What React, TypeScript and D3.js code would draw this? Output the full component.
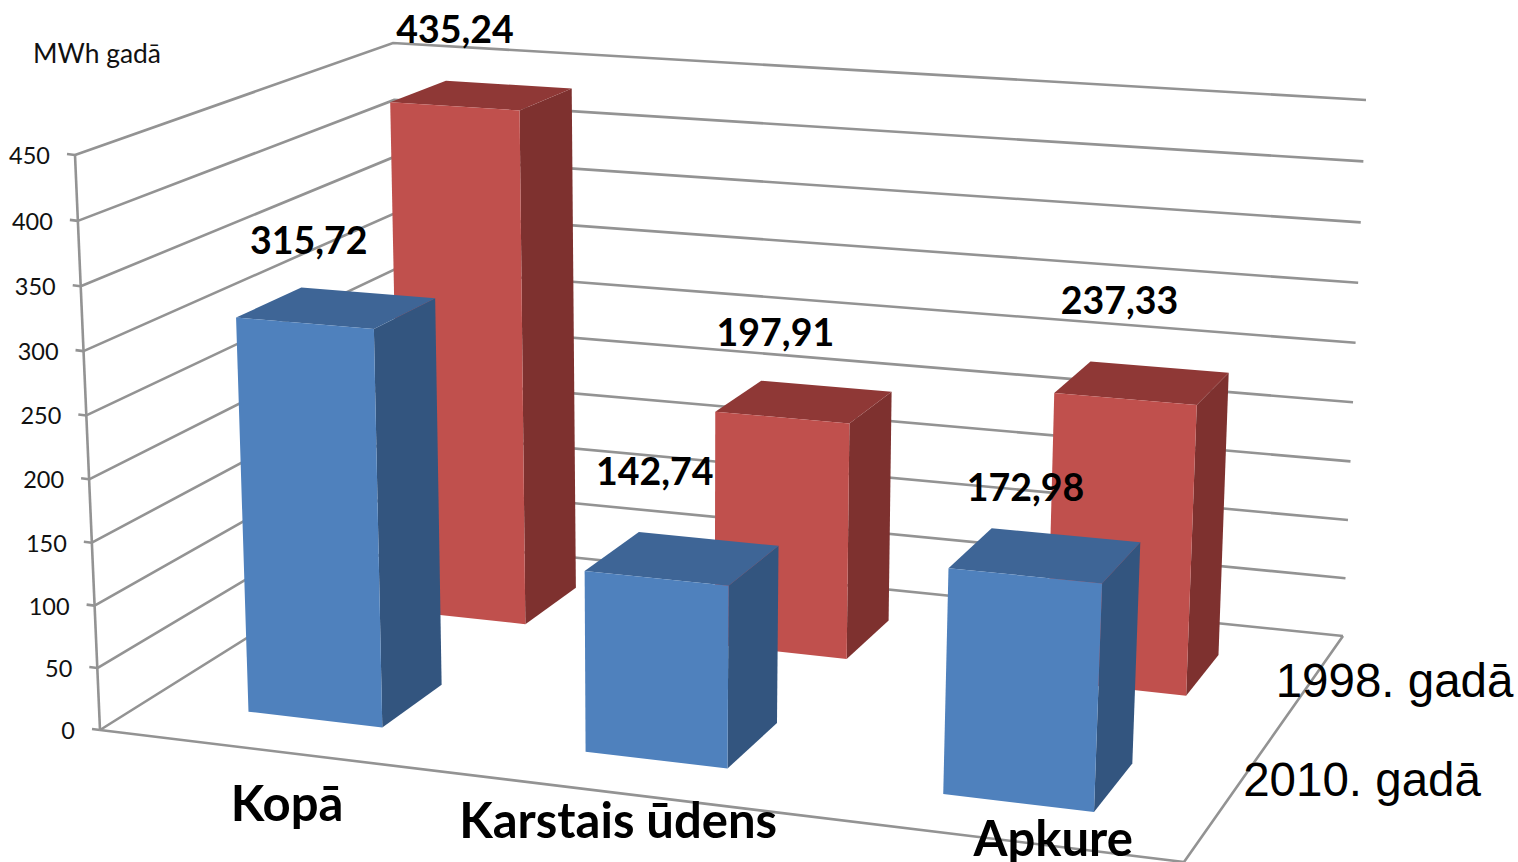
import React, { useEffect, useRef } from "react";
import * as d3 from "d3";

const categories = ["Kopā", "Karstais ūdens", "Apkure"];
const seriesNames = ["2010. gadā", "1998. gadā"];
const values2010 = [315.72, 142.74, 172.98];
const values1998 = [435.24, 197.91, 237.33];
const yTicks = [0, 50, 100, 150, 200, 250, 300, 350, 400, 450];
const yUnit = "MWh gadā";

const W = 1518;
const H = 862;

type P = [number, number];

// corners of the 3D box on screen: front-left, front-right, back-right, back-left
const floorQuad: P[] = [[100, 730], [1184, 862], [1343, 636], [403, 540]];
const ceilQuad: P[] = [[75, 155], [1212, 235], [1366, 100], [393, 43]];

// unit square -> quad perspective map
function homography(q: P[]) {
  const [[x0, y0], [x1, y1], [x2, y2], [x3, y3]] = q;
  const dx1 = x1 - x2, dx2 = x3 - x2, sx = x0 - x1 + x2 - x3;
  const dy1 = y1 - y2, dy2 = y3 - y2, sy = y0 - y1 + y2 - y3;
  const den = dx1 * dy2 - dx2 * dy1;
  const g = (sx * dy2 - dx2 * sy) / den;
  const h = (dx1 * sy - sx * dy1) / den;
  const a = x1 - x0 + g * x1, b = x3 - x0 + h * x3;
  const d = y1 - y0 + g * y1, e = y3 - y0 + h * y3;
  return (u: number, v: number): P => {
    const k = g * u + h * v + 1;
    return [(a * u + b * v + x0) / k, (d * u + e * v + y0) / k];
  };
}

const floor = homography(floorQuad);
const ceil = homography(ceilQuad);

const xBand = d3.scaleBand<string>().domain(categories).range([0.007, 0.995]).paddingInner(0.596).paddingOuter(0.288);
const zBand = d3.scaleBand<string>().domain(seriesNames).range([-0.008, 0.995]).paddingInner(0.605).paddingOuter(0.29);
const yScale = d3.scaleLinear().domain([0, 450]).range([0, 1]);

// value axis gets a little stretched towards the top of the box
const tall = (t: number) => t / (1.035 - 0.035 * t);

// u along the front, w into the depth, val on the value axis
function project(u: number, w: number, val: number): P {
  const t = tall(yScale(val));
  const a = floor(u, w);
  const b = ceil(u, w);
  return [a[0] + (b[0] - a[0]) * t, a[1] + (b[1] - a[1]) * t];
}

const fmt = d3.formatLocale({ decimal: ",", thousands: "", grouping: [3], currency: ["", ""] }).format(".2f");
const line = d3.line();

const seriesColors = [
  { front: "#4f81bd", side: "#33557f", top: "#3e6596" },
  { front: "#c0504d", side: "#7e312f", top: "#8f3836" },
];
const gridColor = "#939393";
const calibriLike = "Lato, 'Open Sans', sans-serif";

// labels were hand placed in the source slide
const labelNudge2010: P[] = [[-3, -2], [-3, -21], [5, -2]];
const labelNudge1998: P[] = [[-2, 0], [-4, -4], [2, -17]];
const categoryNudge: P[] = [[17, 70], [0, 45], [65, 18]];
const seriesNudge: P[] = [[16, -5], [-32, 11]];

export default function App() {
  const ref = useRef<SVGSVGElement>(null);

  useEffect(() => {
    if (!ref.current) return;
    const svg = d3.select(ref.current);
    svg.selectAll("*").remove();

    // walls
    const grid = svg.append("g").attr("fill", "none").attr("stroke", gridColor).attr("stroke-width", 2.6);
    yTicks.forEach((t) => {
      grid.append("path").attr("d", line([project(0, 0, t), project(0, 1, t), project(1, 1, t)]));
      const p = project(0, 0, t);
      grid.append("path").attr("d", line([[p[0] - 8, p[1] - 1], p]));
    });
    grid.append("path").attr("d", line([project(0, 0, 0), project(0, 0, 450)]));
    grid.append("path").attr("d", line([project(0, 0, 0), project(1, 0, 0), project(1, 1, 0)]));

    svg
      .append("g")
      .selectAll("text")
      .data(yTicks)
      .join("text")
      .attr("x", (d) => project(0, 0, d)[0] - 25)
      .attr("y", (d) => project(0, 0, d)[1] + 9)
      .attr("text-anchor", "end")
      .attr("font-family", calibriLike)
      .attr("font-size", 23.5)
      .attr("fill", "#111")
      .text((d) => d);

    svg
      .append("text")
      .attr("x", 33)
      .attr("y", 63)
      .attr("font-family", calibriLike)
      .attr("font-size", 26.4)
      .attr("fill", "#111")
      .text(yUnit);

    // back row first, then the front row
    const rows = [
      { idx: 1, values: values1998, nudge: labelNudge1998 },
      { idx: 0, values: values2010, nudge: labelNudge2010 },
    ];
    const labels: { x: number; y: number; text: string }[] = [];

    rows.forEach((row) => {
      const color = seriesColors[row.idx];
      const z0 = zBand(seriesNames[row.idx])!;
      const z1 = z0 + zBand.bandwidth();
      categories.forEach((cat, i) => {
        const x0 = xBand(cat)!;
        const x1 = x0 + xBand.bandwidth();
        const v = row.values[i];
        const g = svg.append("g");
        g.append("path")
          .attr("fill", color.side)
          .attr("d", line([project(x1, z0, 0), project(x1, z1, 0), project(x1, z1, v), project(x1, z0, v)]) + "Z");
        g.append("path")
          .attr("fill", color.top)
          .attr("d", line([project(x0, z0, v), project(x1, z0, v), project(x1, z1, v), project(x0, z1, v)]) + "Z");
        g.append("path")
          .attr("fill", color.front)
          .attr("d", line([project(x0, z0, 0), project(x1, z0, 0), project(x1, z0, v), project(x0, z0, v)]) + "Z");
        const c = project((x0 + x1) / 2, (z0 + z1) / 2, v);
        labels.push({
          x: c[0] - 25 + row.nudge[i][0],
          y: c[1] - 52 + row.nudge[i][1],
          text: fmt(v),
        });
      });
    });

    svg
      .append("g")
      .selectAll("text")
      .data(labels)
      .join("text")
      .attr("x", (d) => d.x)
      .attr("y", (d) => d.y)
      .attr("text-anchor", "middle")
      .attr("font-family", calibriLike)
      .attr("font-weight", 700)
      .attr("font-size", 37.5)
      .attr("fill", "#000")
      .text((d) => d.text);

    // category labels under the front edge
    svg
      .append("g")
      .selectAll("text")
      .data(categories)
      .join("text")
      .attr("x", (d, i) => project(xBand(d)! + xBand.bandwidth() / 2, 0, 0)[0] + categoryNudge[i][0])
      .attr("y", (d, i) => project(xBand(d)! + xBand.bandwidth() / 2, 0, 0)[1] + categoryNudge[i][1])
      .attr("text-anchor", "middle")
      .attr("font-family", calibriLike)
      .attr("font-weight", 700)
      .attr("font-size", 49)
      .attr("fill", "#000")
      .text((d) => d);

    // series labels along the right edge
    svg
      .append("g")
      .selectAll("text")
      .data(seriesNames)
      .join("text")
      .attr("x", (d, i) => project(1, zBand(d)! + zBand.bandwidth() / 2, 0)[0] + seriesNudge[i][0])
      .attr("y", (d, i) => project(1, zBand(d)! + zBand.bandwidth() / 2, 0)[1] + seriesNudge[i][1])
      .attr("font-family", "'Liberation Sans', Arial, sans-serif")
      .attr("font-size", 47.5)
      .attr("fill", "#000")
      .text((d) => d);
  }, []);

  return (
    <svg
      ref={ref}
      width={W}
      height={H}
      viewBox={`0 0 ${W} ${H}`}
      style={{ position: "absolute", left: 0, top: 0, background: "#fff" }}
    />
  );
}
